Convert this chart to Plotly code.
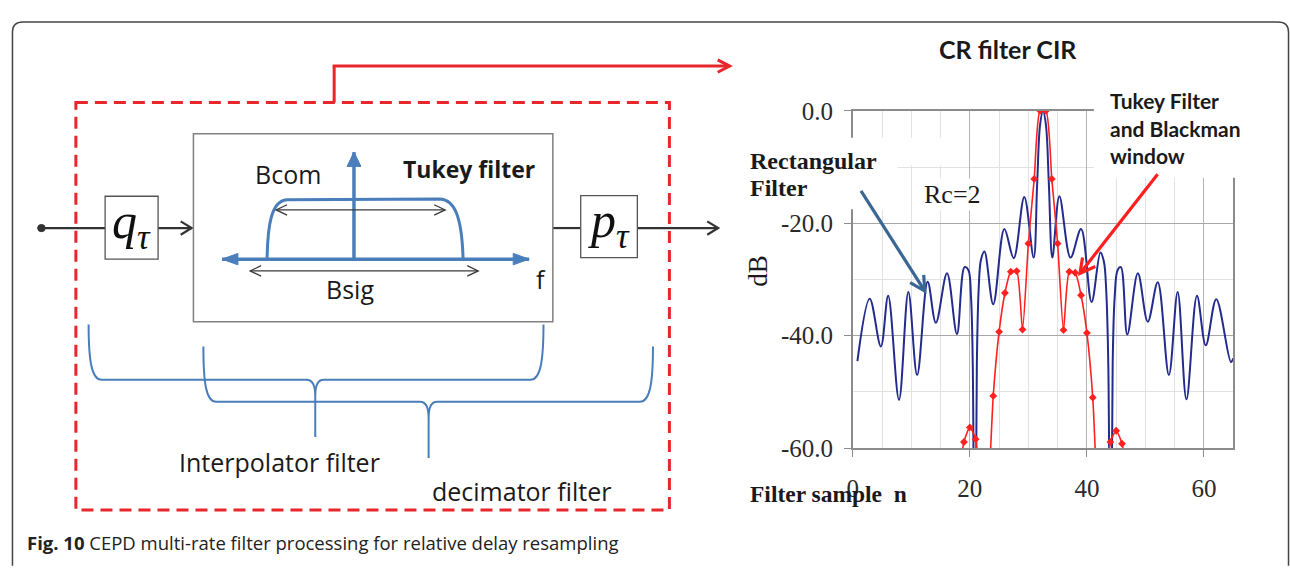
import math
import plotly.graph_objects as go

W, H = 1290, 573

# ---------------- data ----------------
# Rectangular filter CIR (blue), points along the curve: sample index n, level in dB
rect_n = [0.8, 2.9, 4.8, 6.05, 7.9, 9.5, 11.0, 12.8, 14.2, 16.1, 17.8,
          19.1, 19.75, 20.2, 20.5, 20.85, 21.2, 21.5, 21.9, 22.5, 24.0,
          25.9, 27.5, 29.3, 30.9, 31.5, 32.0, 32.5, 33.0, 33.5, 34.1,
          35.3, 37.2, 39.0, 40.8, 42.3, 42.9, 43.3, 43.65, 44.05, 44.4,
          44.75, 45.25, 45.8, 46.9, 48.7, 50.4, 52.1, 54.0, 55.5, 57.0,
          58.8, 60.3, 62.1, 64.6, 65.0]
rect_db = [-44.5, -33.4, -41.9, -32.9, -51.4, -32.2, -47.0, -30.4, -37.7, -28.9, -39.7,
           -27.8, -28.3, -33.0, -45.0, -100.0, -45.0, -32.0, -26.5, -25.0, -34.4,
           -21.0, -26.2, -15.3, -26.1, -13.0, -2.5, 0.0, -2.5, -13.0, -26.1,
           -15.2, -26.1, -21.0, -34.0, -25.2, -26.8, -32.0, -45.0, -100.0, -45.0,
           -33.0, -28.3, -27.8, -39.8, -28.9, -37.5, -30.5, -47.0, -32.2, -51.3,
           -32.9, -41.7, -33.5, -44.7, -44.0]

# Tukey filter + Blackman window CIR (red, one marker per sample)
tukey_n = list(range(18, 48))
tukey_db = [-66.0, -58.9, -56.3, -58.4, -78.0, -71.0, -50.7, -39.3, -32.4, -28.6,
            -28.5, -38.9, -23.6, -12.1, 0.0, 0.0, -12.1, -23.6, -39.0, -28.6,
            -28.8, -32.8, -39.5, -51.0, -72.0, -78.0, -58.9, -56.9, -59.2, -66.0]

x_tickvals = [0, 20, 40, 60]
x_minorvals = [5, 10, 15, 25, 30, 35, 45, 50, 55, 65]
y_tickvals = [0, -20, -40, -60]
y_ticktext = ["0.0", "-20.0", "-40.0", "-60.0"]
y_minorvals = [-10, -30, -50]

caption = "<b>Fig. 10</b> CEPD multi-rate filter processing for relative delay resampling"

# ---------------- helpers (pixel -> paper) ----------------
def X(px):
    return px / W


def Y(py):
    return 1 - py / H


NPTS = {"M": 1, "L": 1, "Q": 2, "C": 3, "Z": 0}


def path(cmds):
    out = []
    for cmd, pts in cmds:
        n = NPTS[cmd]
        if n == 0:
            out.append(cmd)
            continue
        for i in range(0, len(pts), n):
            seg = pts[i:i + n]
            out.append(cmd + " " + " ".join(f"{X(a):.5f},{Y(b):.5f}" for a, b in seg))
    return " ".join(out)


shapes = []
annotations = []


def line(x0, y0, x1, y1, color, width, dash=None):
    ln = dict(color=color, width=width)
    if dash:
        ln["dash"] = dash
    shapes.append(dict(type="line", xref="paper", yref="paper",
                       x0=X(x0), y0=Y(y0), x1=X(x1), y1=Y(y1), line=ln))


def head(x0, y0, x1, y1, color, width, hl, hw, filled=False):
    dx, dy = x1 - x0, y1 - y0
    L = math.hypot(dx, dy)
    ux, uy = dx / L, dy / L
    px_, py_ = -uy, ux
    bx, by = x1 - ux * hl, y1 - uy * hl
    p1 = (bx + px_ * hw, by + py_ * hw)
    p2 = (bx - px_ * hw, by - py_ * hw)
    if filled:
        shapes.append(dict(type="path", xref="paper", yref="paper",
                           path=path([("M", [p1]), ("L", [(x1, y1), p2]), ("Z", [])]),
                           fillcolor=color, line=dict(color=color, width=1)))
    else:
        shapes.append(dict(type="path", xref="paper", yref="paper",
                           path=path([("M", [p1]), ("L", [(x1, y1), p2])]),
                           line=dict(color=color, width=width)))


def arrow(x0, y0, x1, y1, color, width, hl, hw, filled=False, both=False):
    line(x0, y0, x1, y1, color, width)
    head(x0, y0, x1, y1, color, width, hl, hw, filled)
    if both:
        head(x1, y1, x0, y0, color, width, hl, hw, filled)


def rect(x0, y0, x1, y1, color, width, fill=None, dash=None):
    ln = dict(color=color, width=width)
    if dash:
        ln["dash"] = dash
    d = dict(type="rect", xref="paper", yref="paper",
             x0=X(x0), y0=Y(y0), x1=X(x1), y1=Y(y1), line=ln)
    if fill:
        d["fillcolor"] = fill
    shapes.append(d)


def text(px, py, s, size, family="Open Sans", color="#1a1a1a", xanchor="center",
         bold=False, angle=0, bg=None):
    a = dict(xref="paper", yref="paper", x=X(px), y=Y(py), text=(f"<b>{s}</b>" if bold else s),
             showarrow=False, xanchor=xanchor, yanchor="middle", textangle=angle,
             font=dict(family=family, size=size, color=color))
    if bg:
        a["bgcolor"] = bg
        a["borderpad"] = 1
    annotations.append(a)


SANS = "Open Sans"
SERIF = "Liberation Serif"
STEEL = "#4a7ebb"
RED = "#e8262b"
DARK = "#333333"

# ---------------- outer frame ----------------
shapes.append(dict(type="path", xref="paper", yref="paper",
                   path=path([("M", [(6.5, 580)]), ("L", [(6.5, 20)]),
                              ("Q", [(6.5, 9.5), (17, 9.5)]), ("L", [(1278, 9.5)]),
                              ("Q", [(1288.5, 9.5), (1288.5, 20)]), ("L", [(1288.5, 580)])]),
                   line=dict(color="#444444", width=1.5)))

# ---------------- block diagram ----------------
rect(70.2, 94, 666.5, 521.7, RED, 3, dash="12px,7px")
line(329.7, 94, 329.7, 55.7, RED, 3)
arrow(328.2, 55.7, 727, 55.7, RED, 3, 12, 6.5)

# signal path
shapes.append(dict(type="circle", xref="paper", yref="paper",
                   x0=X(31.8), y0=Y(221.9), x1=X(39.4), y1=Y(229.5),
                   fillcolor=DARK, line=dict(color=DARK, width=1)))
line(35.6, 225.7, 99.6, 225.7, DARK, 2.2)
arrow(152.8, 225.7, 186.5, 225.7, DARK, 2.2, 11, 7)
line(549.4, 225.7, 577.4, 225.7, DARK, 2.2)
arrow(634.3, 225.7, 715.5, 225.7, DARK, 2.2, 11, 7)

rect(99.6, 192.3, 152.8, 258.3, "#555555", 1.3, fill="white")
rect(577.4, 191.7, 634.3, 256.7, "#555555", 1.3, fill="white")
rect(188.3, 126.7, 549.4, 324, "#808080", 1.5)

text(126, 223, "<i>q<sub>τ</sub></i>", 50, family=SERIF, color="#111111")
text(606, 221, "<i>p<sub>τ</sub></i>", 50, family=SERIF, color="#111111")

# spectrum sketch inside the Tukey box
arrow(349.6, 258.3, 349.6, 146, STEEL, 3.5, 15, 7, filled=True)
arrow(217, 258.3, 525.6, 258.3, STEEL, 3.5, 16, 6, filled=True, both=True)
shapes.append(dict(type="path", xref="paper", yref="paper",
                   path=path([("M", [(262.3, 257)]),
                              ("C", [(263, 224), (266, 197.5), (282, 196)]),
                              ("L", [(436, 195.3)]),
                              ("C", [(450, 196), (458, 212), (459.2, 258)])]),
                   line=dict(color=STEEL, width=3)))
arrow(271.4, 206.7, 441.2, 206.7, "#3a3a3a", 1.3, 11, 5.5, both=True)
arrow(245.3, 270.7, 474.4, 270.7, "#3a3a3a", 1.3, 11, 5.5, both=True)

text(283.7, 169.3, "Bcom", 25, family=SANS)
text(465, 163.3, "Tukey filter", 23, family=SANS, bold=True)
text(345.4, 290, "Bsig", 25, family=SANS)
text(537, 279, "f", 25, family=SANS)

# braces
shapes.append(dict(type="path", xref="paper", yref="paper",
                   path=path([("M", [(83, 327)]), ("C", [(83, 365), (86, 385), (96, 385)]),
                              ("L", [(302, 385)]), ("Q", [(310.7, 385), (310.7, 402)]),
                              ("L", [(310.7, 445)]),
                              ("M", [(310.7, 402)]), ("Q", [(310.7, 385), (319, 385)]),
                              ("L", [(527, 385)]), ("C", [(537, 385), (540, 365), (540, 327)])]),
                   line=dict(color=STEEL, width=2)))
shapes.append(dict(type="path", xref="paper", yref="paper",
                   path=path([("M", [(198.3, 350)]), ("C", [(198.3, 388), (201, 408), (211, 408)]),
                              ("L", [(416, 408)]), ("Q", [(424.6, 408), (424.6, 425)]),
                              ("L", [(424.6, 467)]),
                              ("M", [(424.6, 425)]), ("Q", [(424.6, 408), (433, 408)]),
                              ("L", [(637, 408)]), ("C", [(647, 408), (650, 388), (650, 350)])]),
                   line=dict(color=STEEL, width=2)))
text(275, 471.7, "Interpolator filter", 25, family=SANS)
text(518, 501.7, "decimator filter", 25, family=SANS)

# caption
text(19, 556, caption, 18.5, family=SANS, xanchor="left", color="#222222")

# ---------------- chart overlays (white label boxes, arrows) ----------------
rect(740, 131, 896, 206, "white", 0, fill="white")
rect(896, 131, 962, 160, "white", 0, fill="white")
rect(1093, 66, 1252, 173, "white", 0, fill="white")

arrow(859, 186.7, 923, 291.7, "#3a6694", 3.2, 15, 8)
arrow(1157, 169.3, 1079, 273.3, "#ff1f1f", 3.2, 15, 8)

text(1007, 38.3, "CR filter CIR", 25, family="Lato", bold=True)
text(1106.7, 91.7, "Tukey Filter", 21, family="Lato", bold=True, xanchor="left")
text(1106.7, 120.7, "and Blackman", 21, family="Lato", bold=True, xanchor="left")
text(1106.7, 150, "window", 21, family="Lato", bold=True, xanchor="left")
text(745.5, 155, "Rectangular", 24, family=SERIF, bold=True, xanchor="left")
text(745.5, 183.3, "Filter", 24, family=SERIF, bold=True, xanchor="left")
text(950.8, 191, "Rc=2", 26, family=SERIF, bg="white")
text(756, 270, "dB", 27, family=SERIF, angle=-90)
text(745.5, 505, "Filter sample&nbsp;&nbsp;n", 23.5, family=SERIF, bold=True, xanchor="left")

# ---------------- chart ----------------
fig = go.Figure()
fig.add_trace(go.Scatter(x=rect_n, y=rect_db, mode="lines", name="Rectangular Filter",
                         line=dict(color="#232c8c", width=2, shape="spline", smoothing=1.0),
                         hoverinfo="skip"))
fig.add_trace(go.Scatter(x=tukey_n, y=tukey_db, mode="lines+markers",
                         name="Tukey Filter and Blackman window",
                         line=dict(color="#ff2020", width=1.6, shape="spline", smoothing=0.6),
                         marker=dict(symbol="diamond", size=6, color="#ff2020"),
                         hoverinfo="skip"))

AX = "#8c8c8c"
fig.update_layout(
    width=W, height=H, autosize=False,
    margin=dict(l=0, r=0, t=0, b=0, pad=0),
    paper_bgcolor="white", plot_bgcolor="rgba(0,0,0,0)",
    showlegend=False,
    shapes=shapes, annotations=annotations,
    xaxis=dict(domain=[X(850.7), X(1233)], range=[0, 65], showline=True, linecolor=AX,
               linewidth=1.5, mirror=True, ticks="outside", ticklen=7, tickcolor=AX,
               tickwidth=1.2, tickmode="array", tickvals=x_tickvals,
               showgrid=True, gridcolor="#b4b4b4", gridwidth=1, zeroline=False,
               minor=dict(tickmode="array", tickvals=x_minorvals, showgrid=True,
                          gridcolor="#e2e2e2", gridwidth=1, ticks=""),
               tickfont=dict(family=SERIF, size=25, color="#2a2a2a"),
               ticklabelstandoff=10, fixedrange=True),
    yaxis=dict(domain=[Y(456.7), Y(102.7)], range=[-60, 0], showline=True, linecolor=AX,
               linewidth=1.5, mirror=True, ticks="outside", ticklen=7, tickcolor=AX,
               tickwidth=1.2, tickmode="array", tickvals=y_tickvals, ticktext=y_ticktext,
               showgrid=True, gridcolor="#a8a8a8", gridwidth=1.2, zeroline=False,
               minor=dict(tickmode="array", tickvals=y_minorvals, showgrid=True,
                          gridcolor="#e2e2e2", gridwidth=1, ticks=""),
               tickfont=dict(family=SERIF, size=25, color="#2a2a2a"),
               ticklabelstandoff=6, fixedrange=True),
)

fig.write_html("out.html", include_plotlyjs=True, full_html=True,
               config={"displayModeBar": False},
               post_script="document.body.style.margin='0';")
